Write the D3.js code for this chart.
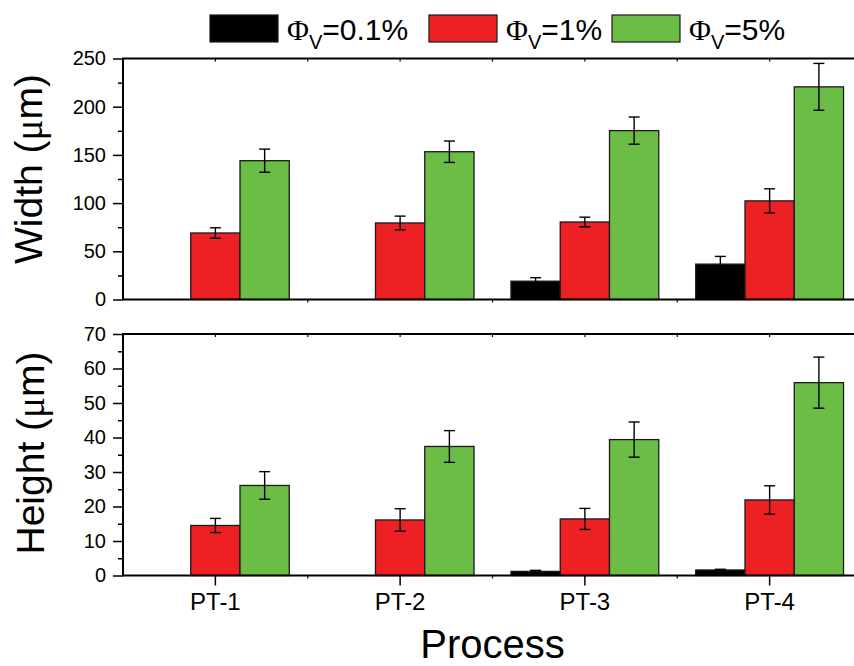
<!DOCTYPE html>
<html>
<head>
<meta charset="utf-8">
<script src="https://cdn.jsdelivr.net/npm/d3@7"></script>
<style>
  body { margin: 0; background: #fff; }
  svg { display: block; font-family: "Liberation Sans", Arial, sans-serif; }
</style>
</head>
<body>
<svg width="854" height="666"></svg>
<script>
// Categories and series
var categories = ["PT-1", "PT-2", "PT-3", "PT-4"];
var seriesKeys = ["0.1%", "1%", "5%"];
var seriesColors = ["#000000", "#ed2024", "#6bbd45"];

// Width (um) - means and errors, null = no bar
var widthLow = [null, null, 19, 36.7];
var widthLowErr = [0, 0, 3.6, 8];
var widthMid = [69, 79.4, 80.4, 102.3];
var widthMidErr = [5.4, 7.1, 5, 12.5];
var widthHigh = [144, 153.3, 175.2, 220.6];
var widthHighErr = [12, 11.1, 14.1, 24.3];

// Height (um)
var heightLow = [null, null, 1.2, 1.6];
var heightLowErr = [0, 0, 0.3, 0.2];
var heightMid = [14.5, 16.1, 16.4, 21.9];
var heightMidErr = [2.05, 3.25, 3.05, 4.1];
var heightHigh = [26.1, 37.4, 39.4, 55.9];
var heightHighErr = [4, 4.6, 5.1, 7.4];

// Tick values
var widthTicks = [0, 50, 100, 150, 200, 250];
var heightTicks = [0, 10, 20, 30, 40, 50, 60, 70];

var svg = d3.select("svg");

// Plot frame - the right side is cut by the picture edge
var left = 123, right = 862;

var x = d3.scaleBand()
    .domain(categories)
    .range([left, right])
    .paddingInner(0.2)
    .paddingOuter(0.1);

var xSub = d3.scaleBand()
    .domain(seriesKeys)
    .range([0, x.bandwidth()]);

var panels = [
  { label: "Width", top: 58.5, bottom: 299.5, max: 250, ticks: widthTicks, minor: 25,
    values: [widthLow, widthMid, widthHigh], errs: [widthLowErr, widthMidErr, widthHighErr],
    labelY: 169, labelX: 42, xLabels: false },
  { label: "Height", top: 334, bottom: 575.5, max: 70, ticks: heightTicks, minor: 5,
    values: [heightLow, heightMid, heightHigh], errs: [heightLowErr, heightMidErr, heightHighErr],
    labelY: 453, labelX: 44, xLabels: true }
];

panels.forEach(function(p) {
  var y = d3.scaleLinear().domain([0, p.max]).range([p.bottom, p.top]);
  var g = svg.append("g");

  // flatten rows for bars
  var rows = [];
  categories.forEach(function(c, i) {
    seriesKeys.forEach(function(k, j) {
      if (p.values[j][i] != null)
        rows.push({cat: c, key: k, j: j, v: p.values[j][i], e: p.errs[j][i]});
    });
  });

  g.selectAll("rect.bar")
    .data(rows)
    .enter().append("rect")
      .attr("class", "bar")
      .attr("x", function(d) { return x(d.cat) + xSub(d.key); })
      .attr("y", function(d) { return y(d.v); })
      .attr("width", xSub.bandwidth())
      .attr("height", function(d) { return y(0) - y(d.v); })
      .attr("fill", function(d) { return seriesColors[d.j]; })
      .attr("stroke", "#1a1a1a")
      .attr("stroke-width", 1.3);

  // error bars
  var eb = g.selectAll("g.err")
    .data(rows.filter(function(d) { return d.e > 0; }))
    .enter().append("g")
      .attr("class", "err")
      .attr("stroke", "#000")
      .attr("stroke-width", 1.4);
  eb.append("line")
    .attr("x1", function(d) { return x(d.cat) + xSub(d.key) + xSub.bandwidth() / 2; })
    .attr("x2", function(d) { return x(d.cat) + xSub(d.key) + xSub.bandwidth() / 2; })
    .attr("y1", function(d) { return y(d.v - d.e); })
    .attr("y2", function(d) { return y(d.v + d.e); });
  [-1, 1].forEach(function(s) {
    eb.append("line")
      .attr("x1", function(d) { return x(d.cat) + xSub(d.key) + xSub.bandwidth() / 2 - 5.5; })
      .attr("x2", function(d) { return x(d.cat) + xSub(d.key) + xSub.bandwidth() / 2 + 5.5; })
      .attr("y1", function(d) { return y(d.v + s * d.e); })
      .attr("y2", function(d) { return y(d.v + s * d.e); });
  });

  // frame lines
  g.append("rect")
    .attr("x", left).attr("y", p.top)
    .attr("width", right - left).attr("height", p.bottom - p.top)
    .attr("fill", "none").attr("stroke", "#000").attr("stroke-width", 2);

  // left axis with major + minor ticks
  var yAxis = d3.axisLeft(y).tickValues(p.ticks).tickSize(10).tickPadding(7);
  var ya = g.append("g").attr("transform", "translate(" + left + ",0)").call(yAxis);
  ya.select(".domain").remove();
  ya.selectAll("line").attr("stroke-width", 1.5);
  ya.selectAll("text").attr("font-size", 20).attr("fill", "#000");
  g.append("g").attr("transform", "translate(" + left + ",0)")
    .call(d3.axisLeft(y).tickValues(d3.range(p.minor, p.max, p.minor * 2)).tickSize(5).tickFormat(""))
    .call(function(a) { a.select(".domain").remove(); a.selectAll("line").attr("stroke-width", 1.5); });

  // small ticks on the top edge and boundary ticks on the bottom edge
  var bounds = d3.range(1, categories.length).map(function(i) { return left + x.step() * i; });
  var topTicks = bounds.concat(categories.map(function(c) { return x(c) + x.bandwidth() / 2; }));
  g.selectAll("line.tt").data(topTicks).enter().append("line")
    .attr("x1", function(d) { return d; }).attr("x2", function(d) { return d; })
    .attr("y1", p.top).attr("y2", p.top + 3)
    .attr("stroke", "#000").attr("stroke-width", 1.2);
  g.selectAll("line.bt").data(bounds).enter().append("line")
    .attr("x1", function(d) { return d; }).attr("x2", function(d) { return d; })
    .attr("y1", p.bottom).attr("y2", p.bottom + 3)
    .attr("stroke", "#000").attr("stroke-width", 1.2);

  if (p.xLabels) {
    var xAxis = d3.axisBottom(x).tickSize(10).tickPadding(7);
    var xa = g.append("g").attr("transform", "translate(0," + p.bottom + ")").call(xAxis);
    xa.select(".domain").remove();
    xa.selectAll("line").attr("stroke-width", 1.5);
    xa.selectAll("text").attr("font-size", 24).attr("fill", "#000");
  }

  // y axis title
  var t = svg.append("text")
    .attr("transform", "translate(" + p.labelX + "," + p.labelY + ") rotate(-90)")
    .attr("text-anchor", "middle")
    .attr("font-size", 39);
  t.append("tspan").text(p.label + " (");
  t.append("tspan").attr("font-family", "'Liberation Serif', serif").text("μ");
  t.append("tspan").text("m)");
});

// x axis title
svg.append("text")
  .attr("x", (left + 854) / 2 + 4)
  .attr("y", 658)
  .attr("text-anchor", "middle")
  .attr("font-size", 40)
  .text("Process");

// Legend
var legendX = [210, 429, 612];
var legend = svg.selectAll("g.legend")
  .data(seriesKeys)
  .enter().append("g")
    .attr("class", "legend")
    .attr("transform", function(d, i) { return "translate(" + legendX[i] + ",15)"; });
legend.append("rect")
  .attr("width", 68).attr("height", 27)
  .attr("fill", function(d, i) { return seriesColors[i]; })
  .attr("stroke", "#1a1a1a").attr("stroke-width", 1.2);
var lt = legend.append("text")
  .attr("x", 77).attr("y", 25)
  .attr("font-size", 30);
lt.append("tspan").attr("font-family", "'Liberation Serif', serif").text("Φ");
lt.append("tspan").attr("font-size", 20).attr("dy", 9).text("V");
lt.append("tspan").attr("dy", -9).text(function(d) { return "=" + d; });
</script>
</body>
</html>
